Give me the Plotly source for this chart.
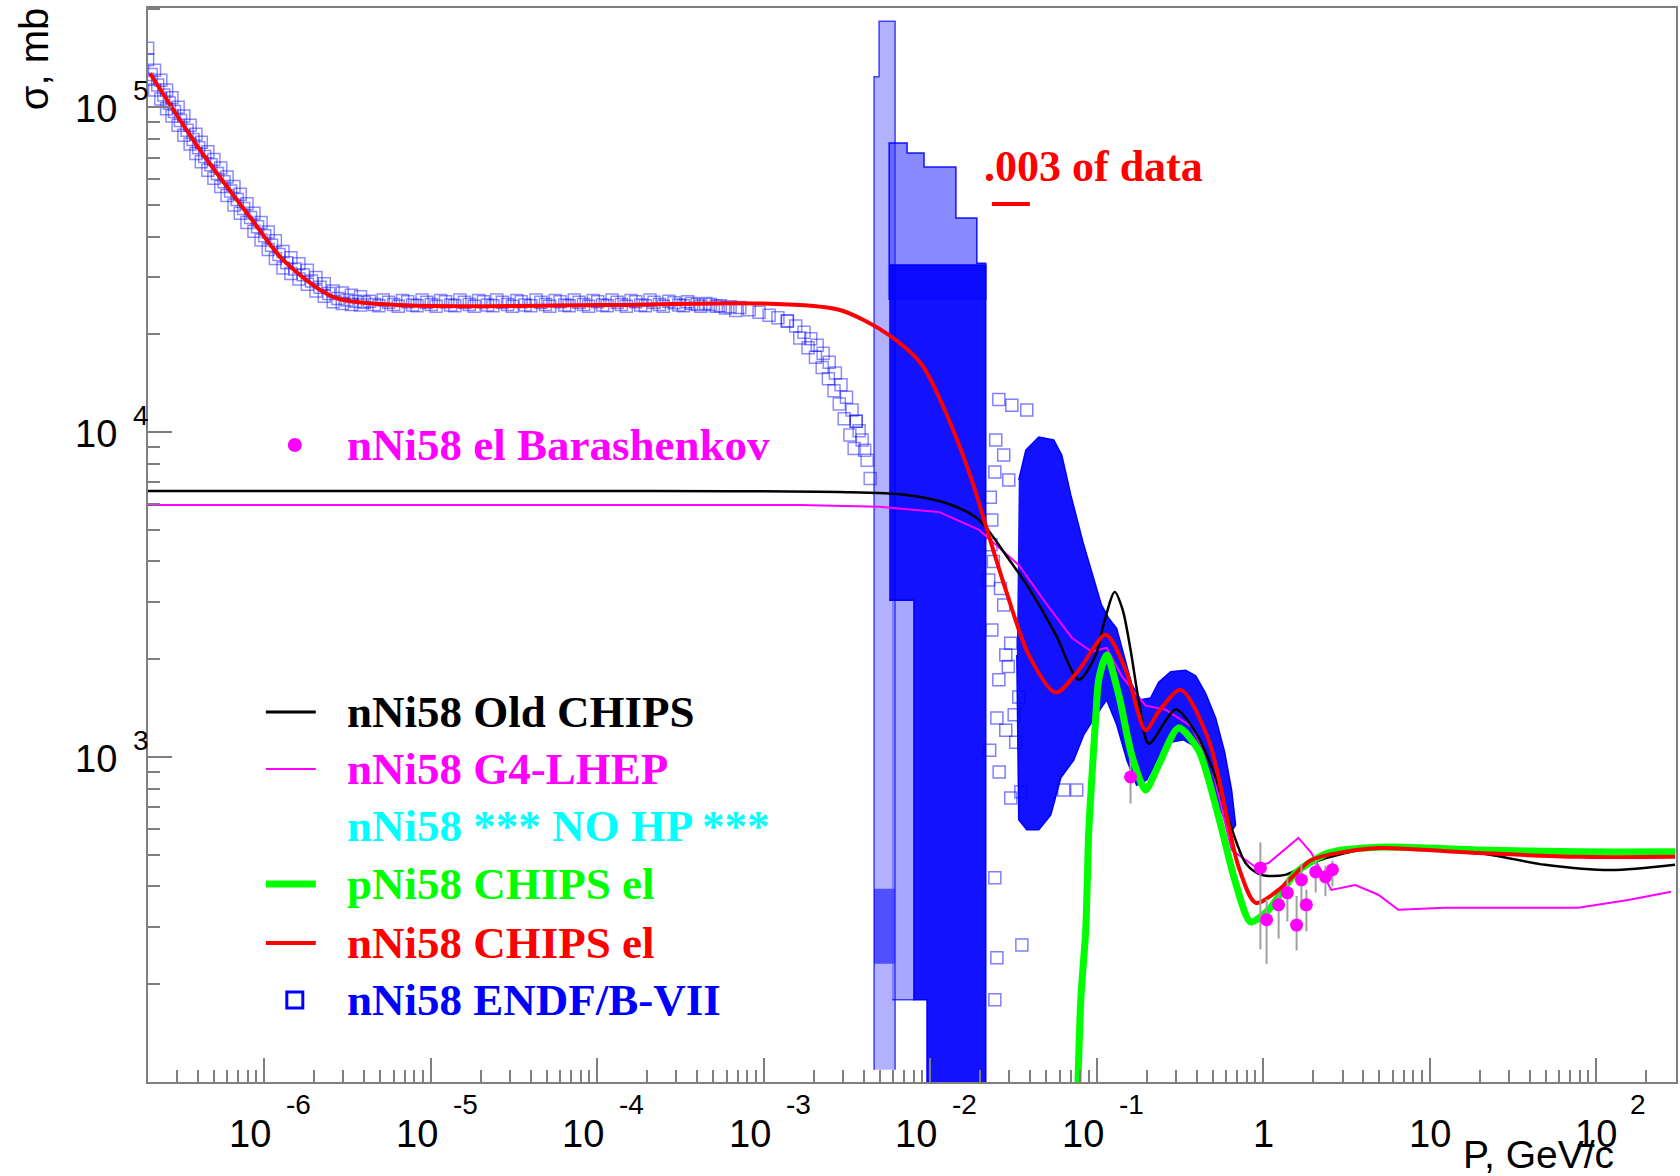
import math
import plotly.graph_objects as go

# ---------------------------------------------------------------- data
# axis decades and tick labels
X_TICKS = [1e-6, 1e-5, 1e-4, 1e-3, 1e-2, 1e-1, 1, 10, 100]
X_BASE = ["10", "10", "10", "10", "10", "10", "1", "10", "10"]
X_EXP = ["-6", "-5", "-4", "-3", "-2", "-1", "", "", "2"]
Y_TICKS = [1e3, 1e4, 1e5]
Y_EXP = ["3", "4", "5"]
X_RANGE = [2.01e-7, 302.0]
Y_RANGE = [100.0, 2.02e5]

# nNi58 CHIPS el (red)
RED_P = [2.07e-7, 4.13e-7, 8.24e-7, 1.30e-6, 2.59e-6, 6.53e-6, 1.04e-4, 9.42e-4,
         2.84e-3, 5.68e-3, 8.95e-3, 1.30e-2, 1.78e-2, 2.25e-2, 2.85e-2, 3.92e-2,
         5.69e-2, 7.82e-2, 0.1135, 0.150, 0.197, 0.236, 0.320, 0.471, 0.713, 0.902,
         1.24, 1.95, 3.12, 4.92, 19.6, 78.0, 298]
RED_S = [1.27e5, 7.38e4, 4.59e4, 3.39e4, 2.61e4, 2.46e4, 2.46e4, 2.49e4,
         2.38e4, 1.99e4, 1.61e4, 1.09e4, 7.13e3, 4.82e3, 3.27e3, 2.06e3,
         1.58e3, 1.85e3, 2.38e3, 1.85e3, 1.21e3, 1.38e3, 1.61e3, 1.13e3, 459, 356,
         390, 482, 511, 525, 507, 493, 493]

# nNi58 Old CHIPS (black)
BLK_P = [2.0e-7, 1.04e-4, 2.84e-3, 7.18e-3, 1.30e-2, 1.97e-2, 2.85e-2, 3.92e-2,
         5.69e-2, 7.82e-2, 9.89e-2, 0.110, 0.1285, 0.1435, 0.160, 0.179, 0.206,
         0.299, 0.394, 0.491, 0.785, 0.977, 1.36, 1.95, 3.12, 4.92, 19.6, 49.4,
         123, 298]
BLK_S = [6.59e3, 6.59e3, 6.54e3, 6.41e3, 6.01e3, 5.37e3, 4.19e3, 3.31e3,
         2.38e3, 1.73e3, 2.06e3, 2.55e3, 3.22e3, 2.84e3, 2.14e3, 1.50e3, 1.10e3,
         1.40e3, 1.19e3, 933, 472, 434, 434, 472, 507, 525, 507, 466,
         449, 466]

# nNi58 G4-LHEP (magenta)
MAG_P = [2.0e-7, 1.64e-3, 4.94e-3, 1.13e-2, 1.97e-2, 3.41e-2, 4.95e-2, 7.10e-2,
         9.35e-2, 0.115, 0.142, 0.197, 0.260, 0.372, 0.491, 0.647, 0.902, 1.08,
         1.63, 1.95, 2.57, 3.58, 4.92, 6.49, 12.4, 78.0, 156, 282]
MAG_S = [5.97e3, 5.97e3, 5.89e3, 5.68e3, 5.00e3, 3.90e3, 2.98e3, 2.33e3,
         2.11e3, 2.17e3, 1.77e3, 1.44e3, 1.40e3, 1.24e3, 933, 518, 459, 472,
         564, 507, 390, 404, 377, 339, 344, 344, 363, 385]

# pNi58 CHIPS el (green)
GRN_P = [7.40e-2, 8.04e-2, 8.61e-2, 8.97e-2, 9.35e-2, 9.89e-2, 0.103, 0.115,
         0.136, 0.163, 0.197, 0.236, 0.311, 0.410, 0.541, 0.684, 0.841, 1.08,
         1.57, 2.47, 4.92, 19.6, 78.0, 298]
GRN_S = [43, 179, 294, 585, 851, 1.33e3, 1.73e3, 2.06e3,
         1.55e3, 1.01e3, 792, 946, 1.23e3, 1.05e3, 654, 410, 311, 339,
         440, 507, 528, 518, 511, 511]

# nNi58 el Barashenkov (magenta points with errors)
BAR_P = [0.160, 0.964, 1.05, 1.24, 1.40, 1.59, 1.70, 1.82, 2.07, 2.37, 2.61]
BAR_S = [869, 456, 316, 351, 382, 304, 419, 351, 443, 428, 450]
BAR_EHI = [120, 90, 50, 30, 40, 70, 50, 40, 40, 35, 30]
BAR_ELO = [150, 200, 85, 75, 70, 50, 80, 60, 60, 55, 50]

# nNi58 ENDF/B-VII (0.003 of data): low-energy squares
ENDF_LOW_P = [
    2.0e-7, 2.0e-7, 2.0e-7, 2.2e-7, 2.2e-7, 2.4e-7, 2.4e-7, 2.6e-7, 2.6e-7,
    2.8e-7, 2.8e-7, 3.05e-7, 3.05e-7, 3.3e-7, 3.3e-7, 3.6e-7, 3.6e-7,
    3.9e-7, 3.9e-7, 4.2e-7, 4.2e-7, 4.6e-7, 4.6e-7, 5.0e-7, 5.0e-7,
    5.5e-7, 5.5e-7, 6.0e-7, 6.0e-7, 6.6e-7, 6.6e-7, 7.2e-7, 7.2e-7,
    7.9e-7, 7.9e-7, 8.7e-7, 8.7e-7, 9.6e-7, 9.6e-7, 1.06e-6, 1.06e-6,
    1.17e-6, 1.17e-6, 1.3e-6, 1.3e-6, 1.45e-6, 1.45e-6, 1.62e-6, 1.62e-6,
    1.82e-6, 1.82e-6, 2.05e-6, 2.05e-6, 2.3e-6, 2.3e-6, 2.6e-6, 2.6e-6,
    2.95e-6, 2.95e-6, 3.35e-6, 3.35e-6, 3.8e-6, 3.8e-6,
    # middle row of the steep part
    2.1e-7, 2.3e-7, 2.5e-7, 2.7e-7, 2.9e-7, 3.15e-7, 3.45e-7, 3.75e-7, 4.05e-7,
    4.4e-7, 4.8e-7, 5.25e-7, 5.75e-7, 6.3e-7, 6.9e-7, 7.55e-7, 8.3e-7, 9.15e-7,
    1.01e-6, 1.11e-6, 1.23e-6, 1.37e-6, 1.53e-6, 1.72e-6, 1.93e-6, 2.17e-6,
    2.45e-6, 2.78e-6, 3.15e-6, 3.55e-6, 4.0e-6,
    # plateau
    4.3e-6, 4.9e-6, 5.6e-6, 6.4e-6, 7.3e-6, 8.3e-6, 9.5e-6, 1.08e-5, 1.23e-5,
    1.4e-5, 1.6e-5, 1.83e-5, 2.08e-5, 2.37e-5, 2.7e-5, 3.1e-5, 3.5e-5, 4.0e-5,
    4.6e-5, 5.2e-5, 6.0e-5, 6.8e-5, 7.8e-5, 8.9e-5, 1.01e-4, 1.15e-4, 1.32e-4,
    1.5e-4, 1.71e-4, 1.95e-4, 2.2e-4, 2.5e-4, 2.9e-4, 3.3e-4, 3.7e-4, 4.2e-4,
    4.8e-4, 5.5e-4, 6.3e-4, 7.2e-4,
    4.6e-6, 5.2e-6, 6.0e-6, 6.8e-6, 7.8e-6, 8.9e-6, 1.01e-5, 1.15e-5, 1.32e-5,
    1.5e-5, 1.71e-5, 1.95e-5, 2.2e-5, 2.5e-5, 2.9e-5, 3.3e-5, 3.7e-5, 4.3e-5,
    4.9e-5, 5.6e-5, 6.4e-5, 7.3e-5, 8.3e-5, 9.5e-5, 1.08e-4, 1.23e-4, 1.4e-4,
    1.6e-4, 1.83e-4, 2.08e-4, 2.37e-4, 2.7e-4, 3.1e-4, 3.5e-4, 4.0e-4, 4.5e-4,
    5.2e-4, 5.9e-4, 6.8e-4,
    # deviation arc towards the first resonance
    8.2e-4, 9.4e-4, 1.08e-3, 1.22e-3, 1.39e-3, 1.39e-3, 1.56e-3, 1.75e-3,
    1.92e-3, 2.10e-3, 2.28e-3, 2.48e-3, 2.70e-3, 2.92e-3, 3.15e-3, 3.40e-3,
    3.60e-3, 3.60e-3, 3.75e-3, 3.91e-3, 4.05e-3, 4.19e-3, 4.37e-3,
    1.65e-3, 1.85e-3, 2.05e-3, 2.25e-3, 2.45e-3, 2.65e-3, 2.85e-3, 3.05e-3,
    3.3e-3, 3.5e-3]
ENDF_LOW_S = [
    1.52e5, 1.40e5, 1.22e5, 1.30e5, 1.13e5, 1.21e5, 1.06e5, 1.13e5, 9.9e4,
    1.07e5, 9.4e4, 1.0e5, 8.8e4, 9.4e4, 8.2e4, 8.8e4, 7.7e4,
    8.25e4, 7.2e4, 7.8e4, 6.8e4, 7.3e4, 6.4e4, 6.9e4, 6.05e4,
    6.5e4, 5.7e4, 6.1e4, 5.35e4, 5.7e4, 5.0e4, 5.4e4, 4.72e4,
    5.05e4, 4.42e4, 4.72e4, 4.15e4, 4.42e4, 3.9e4, 4.13e4, 3.65e4,
    3.88e4, 3.42e4, 3.6e4, 3.2e4, 3.44e4, 3.08e4, 3.3e4, 2.96e4,
    3.15e4, 2.85e4, 2.99e4, 2.72e4, 2.86e4, 2.62e4, 2.72e4, 2.52e4,
    2.68e4, 2.49e4, 2.64e4, 2.47e4, 2.61e4, 2.46e4,
    1.26e5, 1.17e5, 1.09e5, 1.03e5, 9.7e4, 9.1e4, 8.5e4, 7.95e4, 7.5e4,
    7.05e4, 6.65e4, 6.25e4, 5.9e4, 5.52e4, 5.2e4, 4.88e4, 4.58e4, 4.29e4,
    4.02e4, 3.76e4, 3.52e4, 3.32e4, 3.18e4, 3.05e4, 2.92e4, 2.79e4,
    2.67e4, 2.58e4, 2.55e4, 2.53e4, 2.51e4,
    2.53e4, 2.45e4, 2.51e4, 2.44e4, 2.52e4, 2.45e4, 2.51e4, 2.44e4, 2.52e4,
    2.45e4, 2.51e4, 2.44e4, 2.52e4, 2.45e4, 2.51e4, 2.44e4, 2.52e4, 2.45e4,
    2.51e4, 2.44e4, 2.52e4, 2.45e4, 2.51e4, 2.44e4, 2.52e4, 2.45e4, 2.51e4,
    2.44e4, 2.52e4, 2.45e4, 2.51e4, 2.44e4, 2.50e4, 2.45e4, 2.49e4, 2.44e4,
    2.47e4, 2.45e4, 2.43e4, 2.42e4,
    2.47e4, 2.55e4, 2.47e4, 2.54e4, 2.46e4, 2.55e4, 2.47e4, 2.54e4, 2.46e4,
    2.55e4, 2.47e4, 2.54e4, 2.46e4, 2.55e4, 2.47e4, 2.54e4, 2.46e4, 2.55e4,
    2.47e4, 2.54e4, 2.46e4, 2.55e4, 2.47e4, 2.54e4, 2.46e4, 2.55e4, 2.47e4,
    2.54e4, 2.46e4, 2.55e4, 2.47e4, 2.53e4, 2.46e4, 2.52e4, 2.47e4, 2.49e4,
    2.44e4, 2.41e4, 2.37e4,
    2.38e4, 2.34e4, 2.29e4, 2.25e4, 2.20e4, 2.20e4, 2.12e4, 2.03e4,
    1.94e4, 1.85e4, 1.75e4, 1.64e4, 1.52e4, 1.40e4, 1.28e4, 1.17e4,
    1.08e4, 1.08e4, 1.01e4, 9.46e3, 8.8e3, 8.2e3, 7.2e3,
    1.95e4, 1.82e4, 1.70e4, 1.58e4, 1.46e4, 1.34e4, 1.22e4, 1.10e4,
    9.8e3, 8.9e3]

# ENDF scattered squares in the resonance / unresolved region
ENDF_SCAT_P = [2.59e-2, 3.10e-2, 3.81e-2, 2.48e-2, 2.77e-2, 2.45e-2, 2.97e-2,
               2.35e-2, 2.32e-2, 2.25e-2, 2.77e-2, 2.35e-2, 2.85e-2, 3.05e-2,
               3.41e-2, 2.52e-2, 2.85e-2, 3.27e-2, 3.51e-2, 3.05e-2, 6.35e-2,
               7.60e-2, 2.45e-2, 3.56e-2, 2.52e-2, 2.45e-2, 2.59e-2,
               2.30e-2, 2.40e-2, 2.65e-2, 2.95e-2, 3.20e-2, 2.28e-2, 2.60e-2]
ENDF_SCAT_S = [1.26e4, 1.21e4, 1.17e4, 9.46e3, 8.51e3, 7.54e3, 7.13e3,
               5.37e3, 4.50e3, 3.51e3, 2.94e3, 2.46e3, 2.06e3, 2.24e3,
               1.53e3, 1.32e3, 1.21e3, 1.11e3, 782, 748, 792,
               792, 425, 264, 241, 179, 1.73e3,
               6.3e3, 4.0e3, 3.3e3, 1.9e3, 1.35e3, 1.05e3, 900]

# ENDF dense resonance regions (envelopes of the overlapping squares)
COLA_P = [4.61e-3, 4.61e-3, 4.94e-3, 4.94e-3, 6.17e-3, 6.17e-3]
COLA_S = [109, 1.24e5, 1.24e5, 1.84e5, 1.84e5, 109]
COLA_DARK_P = [4.61e-3, 4.61e-3, 6.17e-3, 6.17e-3]
COLA_DARK_S = [231, 393, 393, 231]
TIPS_P = [5.68e-3, 5.68e-3, 7.28e-3, 7.28e-3, 9.20e-3, 9.20e-3, 1.43e-2,
          1.43e-2, 1.91e-2, 1.91e-2, 2.16e-2, 2.16e-2]
TIPS_S = [2.55e4, 7.76e4, 7.76e4, 7.23e4, 7.23e4, 6.55e4, 6.55e4,
          4.56e4, 4.56e4, 3.31e4, 3.31e4, 2.55e4]
CORE_P = [5.68e-3, 2.16e-2, 2.16e-2, 9.59e-3, 9.59e-3, 8.02e-3, 8.02e-3, 5.68e-3]
CORE_S = [3.27e4, 3.27e4, 62, 62, 179, 179, 3.04e3, 3.04e3]
LIGHT2_P = [5.92e-3, 8.02e-3, 8.02e-3, 5.92e-3]
LIGHT2_S = [3.04e3, 3.04e3, 179, 179]
HUMP_P = [3.41e-2, 3.76e-2, 4.50e-2, 5.53e-2, 6.18e-2, 7.00e-2, 8.37e-2, 9.62e-2,
          0.107, 0.118, 0.132, 0.146, 0.163, 0.184, 0.211, 0.236, 0.279, 0.343,
          0.394, 0.452, 0.519, 0.587, 0.647, 0.684,
          0.638, 0.556, 0.471, 0.399, 0.333, 0.279, 0.236, 0.200, 0.174, 0.152,
          0.132, 0.115, 0.100, 8.37e-2, 7.29e-2, 6.10e-2, 5.31e-2, 4.50e-2,
          3.81e-2, 3.41e-2, 3.32e-2]
HUMP_S = [7.13e3, 8.81e3, 9.66e3, 9.46e3, 8.51e3, 6.41e3, 4.50e3, 3.51e3,
          2.94e3, 2.68e3, 2.49e3, 2.06e3, 1.67e3, 1.50e3, 1.52e3, 1.70e3, 1.83e3, 1.85e3,
          1.78e3, 1.57e3, 1.32e3, 1.04e3, 792, 618,
          585, 687, 863, 1.07e3, 1.13e3, 1.11e3, 1.00e3, 851, 820, 979,
          1.26e3, 1.50e3, 1.35e3, 1.17e3, 979, 863, 664, 597,
          597, 641, 2.06e3]

LEGEND_TEXT = ["nNi58 Old CHIPS", "nNi58 G4-LHEP", "nNi58 *** NO HP ***",
               "pNi58 CHIPS el", "nNi58 CHIPS el", "nNi58 ENDF/B-VII"]
LEGEND_COLOR = ["#000000", "#ff00ff", "#00ffff", "#00ff00", "#ff0000", "#0000ff"]

# ---------------------------------------------------------------- layout helpers
W, H = 1680, 1176
ML, MR, MT, MB = 148, 2, 8, 94
PW, PH = W - ML - MR, H - MT - MB
SANS = "Liberation Sans, Arial, sans-serif"
SERIF = "Liberation Serif, Times New Roman, serif"
AXC = "#7f7f7f"


def px(x):
    return (x - ML) / PW


def py(y):
    return (H - MB - y) / PH


fig = go.Figure()


def poly(xs, ys, fill, line):
    fig.add_trace(go.Scatter(x=xs, y=ys, mode="lines", fill="toself",
                             fillcolor=fill, line=dict(color=line, width=1.5),
                             hoverinfo="skip", showlegend=False))


# ENDF data
poly(COLA_P, COLA_S, "rgba(60,60,255,0.40)", "rgba(0,0,255,0.7)")
poly(COLA_DARK_P, COLA_DARK_S, "rgba(0,0,255,0.55)", "rgba(0,0,255,0.0)")
poly(LIGHT2_P, LIGHT2_S, "rgba(60,60,255,0.45)", "rgba(0,0,255,0.7)")
poly(TIPS_P, TIPS_S, "rgba(40,40,255,0.55)", "rgba(0,0,255,0.9)")
poly(CORE_P, CORE_S, "rgba(0,0,255,0.93)", "rgba(0,0,255,1)")
poly(HUMP_P, HUMP_S, "rgba(0,0,255,0.93)", "rgba(0,0,255,1)")

fig.add_trace(go.Scatter(x=ENDF_LOW_P, y=ENDF_LOW_S, mode="markers",
                         marker=dict(symbol="square-open", size=12,
                                     color="rgba(0,0,255,0.45)", line=dict(width=1.5)),
                         showlegend=False, hoverinfo="skip"))
fig.add_trace(go.Scatter(x=ENDF_SCAT_P, y=ENDF_SCAT_S, mode="markers",
                         marker=dict(symbol="square-open", size=12,
                                     color="rgba(0,0,255,0.5)", line=dict(width=1.5)),
                         showlegend=False, hoverinfo="skip"))

# model curves
fig.add_trace(go.Scatter(x=MAG_P, y=MAG_S, mode="lines",
                         line=dict(color="#ff00ff", width=2), showlegend=False))
fig.add_trace(go.Scatter(x=BLK_P, y=BLK_S, mode="lines",
                         line=dict(color="#000000", width=2.5, shape="spline", smoothing=0.8),
                         showlegend=False))
fig.add_trace(go.Scatter(x=GRN_P, y=GRN_S, mode="lines",
                         line=dict(color="#00ff00", width=7, shape="spline", smoothing=0.7),
                         showlegend=False))
fig.add_trace(go.Scatter(x=RED_P, y=RED_S, mode="lines",
                         line=dict(color="#ff0000", width=4, shape="spline", smoothing=0.8),
                         showlegend=False))

# Barashenkov points
fig.add_trace(go.Scatter(x=BAR_P, y=BAR_S, mode="markers",
                         marker=dict(color="#ff00ff", size=13),
                         error_y=dict(type="data", symmetric=False, array=BAR_EHI,
                                      arrayminus=BAR_ELO, color="#a0a0a0",
                                      thickness=2, width=0),
                         showlegend=False))

annotations = []
shapes = []

# x tick labels
for v, base, ex in zip(X_TICKS, X_BASE, X_EXP):
    neg = ex.startswith("-")
    annotations.append(dict(x=math.log10(v), xref="x", y=0, yref="paper", text=base,
                            showarrow=False, xanchor="center", yanchor="middle",
                            xshift=-14 if neg else 0, yshift=-52,
                            font=dict(family=SANS, size=38, color="black")))
    if ex:
        annotations.append(dict(x=math.log10(v), xref="x", y=0, yref="paper", text=ex,
                                showarrow=False, xanchor="left", yanchor="middle",
                                xshift=20 if neg else 32, yshift=-22,
                                font=dict(family=SANS, size=28, color="black")))

# y tick labels
for v, ex in zip(Y_TICKS, Y_EXP):
    annotations.append(dict(x=0, xref="paper", y=math.log10(v), yref="y", text="10",
                            showarrow=False, xanchor="right", yanchor="middle",
                            xshift=-29, yshift=-2,
                            font=dict(family=SANS, size=38, color="black")))
    annotations.append(dict(x=0, xref="paper", y=math.log10(v), yref="y", text=ex,
                            showarrow=False, xanchor="left", yanchor="middle",
                            xshift=-17, yshift=17,
                            font=dict(family=SANS, size=28, color="black")))

# axis titles
annotations.append(dict(x=px(1540), xref="paper", y=py(1154), yref="paper",
                        text="P, GeV/c", showarrow=False, xanchor="center", yanchor="middle",
                        font=dict(family=SANS, size=39, color="black")))
annotations.append(dict(x=px(34), xref="paper", y=py(59), yref="paper",
                        text="σ, mb", showarrow=False, xanchor="center", yanchor="middle",
                        textangle=-90, font=dict(family=SANS, size=40, color="black")))

# ".003 of data"
annotations.append(dict(x=px(983), xref="paper", y=py(166), yref="paper",
                        text="<b>.003 of data</b>", showarrow=False, xanchor="left",
                        yanchor="middle", font=dict(family=SERIF, size=44, color="#ff0000")))
shapes.append(dict(type="line", xref="paper", yref="paper", x0=px(993), x1=px(1031),
                   y0=py(204), y1=py(204), line=dict(color="#ff0000", width=4)))

# legend: Barashenkov
shapes.append(dict(type="circle", xref="paper", yref="paper", x0=px(288), x1=px(302),
                   y0=py(452), y1=py(438), fillcolor="#ff00ff", line=dict(width=0)))
annotations.append(dict(x=px(345), xref="paper", y=py(445), yref="paper",
                        text="<b>nNi58 el Barashenkov</b>", showarrow=False,
                        xanchor="left", yanchor="middle",
                        font=dict(family=SERIF, size=45, color="#ff00ff")))

# legend: main block
leg_y = [712, 769, 826, 884, 943, 1000]
leg_w = [3, 2, 0, 7, 4, 0]
for txt, col, yy, lw in zip(LEGEND_TEXT, LEGEND_COLOR, leg_y, leg_w):
    annotations.append(dict(x=px(345), xref="paper", y=py(yy), yref="paper",
                            text="<b>" + txt + "</b>", showarrow=False,
                            xanchor="left", yanchor="middle",
                            font=dict(family=SERIF, size=45, color=col)))
    if lw:
        shapes.append(dict(type="line", xref="paper", yref="paper", x0=px(266), x1=px(316),
                           y0=py(yy), y1=py(yy), line=dict(color=col, width=lw)))
shapes.append(dict(type="rect", xref="paper", yref="paper", x0=px(287), x1=px(303),
                   y0=py(1008), y1=py(992), line=dict(color="#0000ff", width=3)))

axis_common = dict(type="log", showgrid=False, zeroline=False, showline=True,
                   mirror=True, linecolor=AXC, linewidth=2, ticks="inside",
                   ticklen=24, tickwidth=1.5, tickcolor=AXC, dtick=1,
                   showticklabels=False,
                   minor=dict(ticks="inside", ticklen=12, tickwidth=1.5,
                              tickcolor=AXC, dtick="D1", showgrid=False))

fig.update_layout(
    width=W, height=H,
    margin=dict(l=ML, r=MR, t=MT, b=MB),
    paper_bgcolor="white", plot_bgcolor="white",
    xaxis=dict(range=[math.log10(X_RANGE[0]), math.log10(X_RANGE[1])], **axis_common),
    yaxis=dict(range=[math.log10(Y_RANGE[0]), math.log10(Y_RANGE[1])], **axis_common),
    annotations=annotations,
    shapes=shapes,
    showlegend=False,
)

fig.write_html("out.html")
